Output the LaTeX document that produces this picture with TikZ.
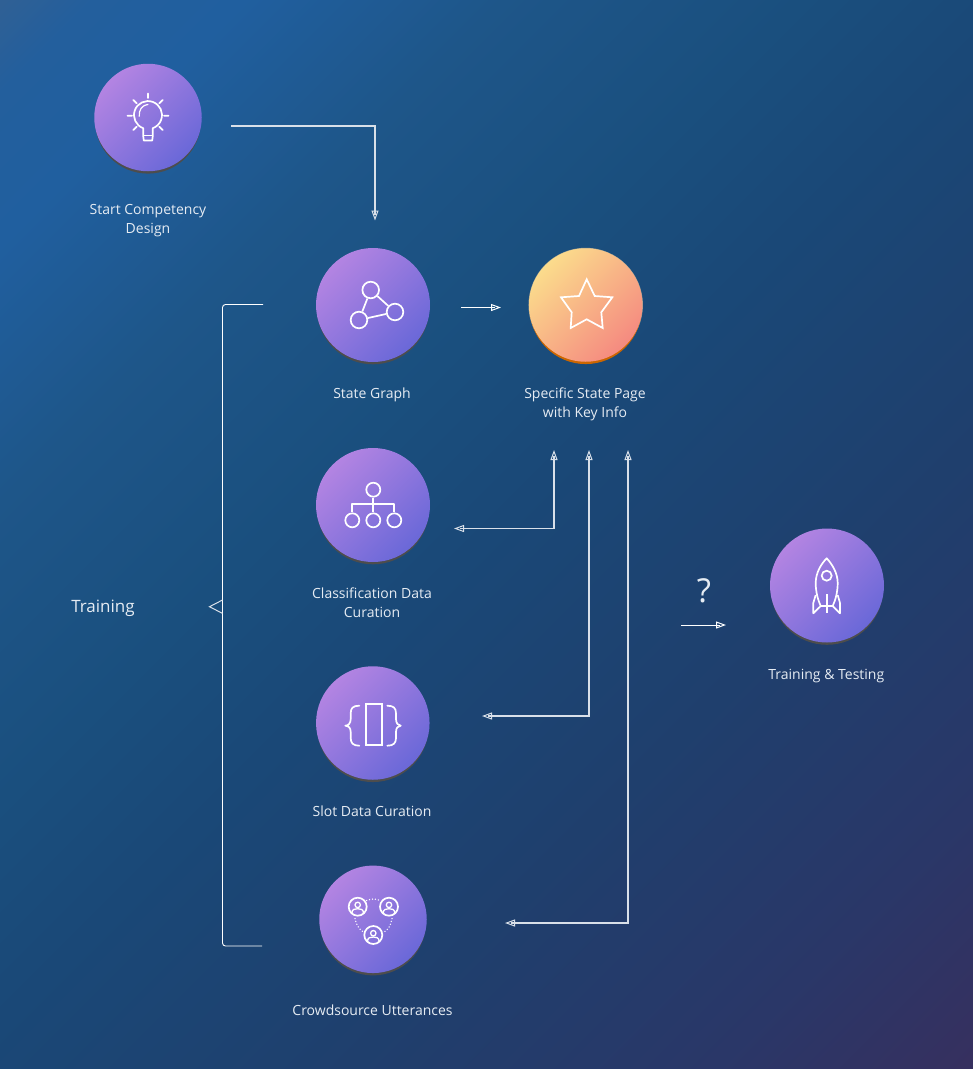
\documentclass[tikz,border=0pt]{standalone}
\usepackage{fontspec}
\setmainfont{Open Sans}
\usetikzlibrary{arrows.meta,shadows}
\definecolor{purA}{HTML}{B384E2}
\definecolor{purB}{HTML}{6A68D8}
\definecolor{orgA}{HTML}{FBDC8C}
\definecolor{orgB}{HTML}{F58A80}
\definecolor{txt}{HTML}{E6ECF3}
\definecolor{conn}{HTML}{D9E0E9}
\definecolor{glow}{HTML}{FFD9A0}
\definecolor{bgA}{HTML}{2F6095}
\definecolor{bgB}{HTML}{235F9D}
\definecolor{bgC}{HTML}{205F9F}
\definecolor{bgD}{HTML}{1E5689}
\definecolor{bgE}{HTML}{1A4F7E}
\definecolor{bgF}{HTML}{1A4877}
\definecolor{bgG}{HTML}{1F3F6D}
\definecolor{bgI}{HTML}{2A3768}
\definecolor{bgH}{HTML}{36305F}
\pgfdeclarehorizontalshading{pageshade}{100bp}{color(0bp)=(bgA);color(25.9bp)=(bgA);color(28bp)=(bgB);color(31.6bp)=(bgC);color(37.7bp)=(bgD);color(44.8bp)=(bgE);color(50bp)=(bgF);color(59.4bp)=(bgG);color(68bp)=(bgI);color(74bp)=(bgH);color(100bp)=(bgH)}
\pgfdeclarehorizontalshading{purshade}{100bp}{color(0bp)=(purA);color(25bp)=(purA);color(75bp)=(purB);color(100bp)=(purB)}
\pgfdeclarehorizontalshading{orgshade}{100bp}{color(0bp)=(orgA);color(25bp)=(orgA);color(75bp)=(orgB);color(100bp)=(orgB)}
\tikzset{
  disc/.style={circle,inner sep=0pt,outer sep=0pt,minimum size=#1,shading=purshade,shading angle=-45,
    drop shadow={shadow xshift=0pt,shadow yshift=-3.2pt,shadow scale=.985,fill=black!55!gray!90,opacity=1}},
  hotdisc/.style={circle,inner sep=0pt,outer sep=0pt,minimum size=#1,shading=orgshade,shading angle=-45,
    drop shadow={shadow xshift=0pt,shadow yshift=-3.2pt,shadow scale=.985,fill=orange!80!black,opacity=1}},
  caption/.style={text=txt,align=center,inner sep=0pt,font=\fontsize{14}{19}\selectfont},
  icon/.style={draw=white,line width=1.7pt,line join=round},
  ring/.style={circle,draw=white,line width=1.7pt,inner sep=0pt,minimum size=#1},
  openhead/.style={-{Triangle[open,length=10pt,width=7pt,line width=1pt]},postaction={draw,arrows=-,shorten >=6pt}},
  bothheads/.style={{Triangle[open,length=10pt,width=7pt,line width=1pt]}-{Triangle[open,length=10pt,width=7pt,line width=1pt]},postaction={draw,arrows=-,shorten >=6pt,shorten <=6pt}},
  heavy/.style={draw=conn,line width=1.2pt},
  thin line/.style={draw=white,line width=.9pt},
  dots/.style={draw=white,line width=1.5pt,line cap=round,dash pattern=on 0pt off 3pt},
}
\begin{document}
\begin{tikzpicture}[x=1pt,y=-1pt]
\useasboundingbox (0,0) rectangle (973,1069);
\begin{scope}
\clip (0,0) rectangle (973,1069);
\shade[shading=pageshade,shading angle=-45] (-263.5,-215.5) rectangle (1236.5,1284.5);
\end{scope}

% discs
\node[disc=107.5pt] (start) at (148,117.5) {};
\node[disc=114pt] (graph) at (373,305) {};
\fill[glow,opacity=.6] (585.7,305) circle (57.2pt);
\node[hotdisc=113.5pt] (page) at (585.7,305) {};
\node[disc=114pt] (class) at (373,505) {};
\node[disc=113.5pt] (slot) at (372.8,723) {};
\node[disc=107.5pt] (crowd) at (373,919.3) {};
\node[disc=114pt] (train) at (827,585.5) {};

% captions
\node[caption] (capstart) at (148,220.5) {Start Competency\\Design};
\node[caption] (capgraph) at (372,395) {State Graph};
\node[caption] (cappage) at (585,404.5) {Specific State Page\\with Key Info};
\node[caption] (capclass) at (372,602.5) {Classification Data\\Curation};
\node[caption] (capslot) at (372,811) {Slot Data Curation};
\node[caption] (capcrowd) at (372.5,1010) {Crowdsource Utterances};
\node[caption] (captrain) at (826.3,676) {Training \& Testing};
\node[caption,font=\fontsize{17}{22}\selectfont] (training) at (103,608) {Training};
\node[caption,font=\fontsize{33}{36}\selectfont] (qmark) at (704,591) {?};

% connector ends
\coordinate (a1) at (231,126); \coordinate (a2) at (375,126); \coordinate (a3) at (375,220.5);
\coordinate (b1) at (461,307.5); \coordinate (b2) at (501,307.5);
\coordinate (c1) at (454,528.5); \coordinate (c2) at (554,528.5); \coordinate (c3) at (554,450);
\coordinate (d1) at (482,716); \coordinate (d2) at (589,716); \coordinate (d3) at (589,450);
\coordinate (e1) at (505,923); \coordinate (e2) at (628,923); \coordinate (e3) at (628,450);
\coordinate (f1) at (681,625); \coordinate (f2) at (726,625);
\coordinate (g1) at (263,304.5); \coordinate (g2) at (222.5,304.5); \coordinate (g3) at (222.5,946); \coordinate (g4) at (262,946);
\coordinate (h1) at (222.5,600); \coordinate (h2) at (209.5,606.7); \coordinate (h3) at (222.5,613.4);

\draw[heavy,openhead] (a1) -- (a2) -- (a3);
\draw[thin line,openhead] (b1) -- (b2);
\draw[heavy,bothheads] (c1) -- (c2) -- (c3);
\draw[heavy,bothheads] (d1) -- (d2) -- (d3);
\draw[heavy,bothheads] (e1) -- (e2) -- (e3);
\draw[thin line,openhead] (f1) -- (f2);
\draw[thin line,rounded corners=3pt] (g1) -- (g2) -- (g3) -- (g4);
\draw[draw=conn,line width=1pt] (h1) -- (h2) -- (h3);

% bulb icon
\draw[icon] (143.2,128.2) arc[start angle=250,end angle=-70,radius=14pt]
  -- (152.8,136) -- (152.2,140.5) -- (143.8,140.5) -- (143.2,136) -- cycle;
\draw[icon] (143.2,135.5) -- (152.8,135.5);
\draw[draw=white,line width=1.2pt] (139.3,116.7) .. controls (138.5,110) and (142,105) .. (148.3,104.3);
\draw[icon,line cap=round]
  (148,93.5) -- (148,98) (127.5,115.7) -- (132,115.7) (164,115.7) -- (168.5,115.7)
  (133.3,100) -- (136.7,103.3) (162.7,100) -- (159.3,103.3)
  (133.3,130) -- (136.7,126.7) (162.7,130) -- (159.3,126.7);

% graph icon
\node[ring=16.6pt] (g-a) at (370.7,290) {};
\node[ring=16.6pt] (g-b) at (359,320) {};
\node[ring=16.6pt] (g-c) at (395,312) {};
\draw[icon] (g-a) -- (g-b); \draw[icon] (g-b) -- (g-c); \draw[icon] (g-a) -- (g-c);

% star icon
\draw[icon,line join=miter] (586.7,279.3) -- (594.7,296) -- (612.3,297.3) -- (601.3,312.3) -- (602.7,328)
  -- (586.7,319.3) -- (570.7,328) -- (571.7,312.3) -- (561,297.3) -- (579,296) -- cycle;

% tree icon
\node[ring=14pt] (t-top) at (373.3,489.7) {};
\node[ring=14pt] (t-l) at (352.3,520.3) {};
\node[ring=14pt] (t-m) at (373.3,520.3) {};
\node[ring=14pt] (t-r) at (394.3,520.3) {};
\draw[icon] (t-top) -- (t-m);
\draw[icon] (t-l) -- (352.3,504) -- (394.3,504) -- (t-r);

% slot icon
\draw[icon,line join=miter] (365.7,704.3) rectangle (381.7,745.3);
\draw[icon,line cap=round] (359.3,705.7) .. controls (353,705.7) and (350.7,708) .. (350.7,713.3) -- (350.7,719)
  .. controls (350.7,723) and (348.5,725.7) .. (345.3,725.7)
  .. controls (348.5,725.7) and (350.7,728) .. (350.7,732) -- (350.7,738)
  .. controls (350.7,743) and (353,745.7) .. (359.3,745.7);
\draw[icon,line cap=round] (387.3,705.7) .. controls (393.5,705.7) and (396,708) .. (396,713.3) -- (396,719)
  .. controls (396,723) and (398,725.7) .. (400.7,725.7)
  .. controls (398,725.7) and (396,728) .. (396,732) -- (396,738)
  .. controls (396,743) and (393.5,745.7) .. (387.3,745.7);

% crowd icon
\foreach \n/\x/\y in {p1/357.7/906.7,p2/389/906.7,p3/373.3/935}{
  \node[ring=18pt] (\n) at (\x,\y) {};
  \draw[draw=white,line width=1.3pt] (\x,\y-1.8) circle (2.7pt);
  \draw[draw=white,line width=1.3pt] (\x-5.8,\y+6.5) .. controls (\x-5.8,\y+2.5) and (\x-3,\y+2) .. (\x,\y+2)
     .. controls (\x+3,\y+2) and (\x+5.8,\y+2.5) .. (\x+5.8,\y+6.5);
}
\draw[dots] (366.7,900.5) .. controls (371,898.5) and (376,898.5) .. (380,900.5);
\draw[dots] (355,918.5) .. controls (356,925) and (360,930) .. (363.5,932);
\draw[dots] (392,918.5) .. controls (391,925) and (388,930) .. (384,932);

% rocket icon
\draw[icon] (826.7,558.3) .. controls (821,564) and (815.7,573) .. (815.7,583)
  .. controls (815.7,592) and (818,600) .. (820.7,606)
  -- (832.7,606) .. controls (835.5,600) and (837.7,592) .. (837.7,583)
  .. controls (837.7,573) and (832,564) .. (826.7,558.3) -- cycle;
\node[ring=10pt] (r-win) at (826.7,575.7) {};
\draw[icon] (826.7,594) -- (826.7,613.3);
\draw[icon] (815.7,595) -- (813.3,603) -- (813.3,613.3) -- (820.7,606);
\draw[icon] (837.7,595) -- (840,603) -- (840,613.3) -- (832.7,606);
\end{tikzpicture}
\end{document}
